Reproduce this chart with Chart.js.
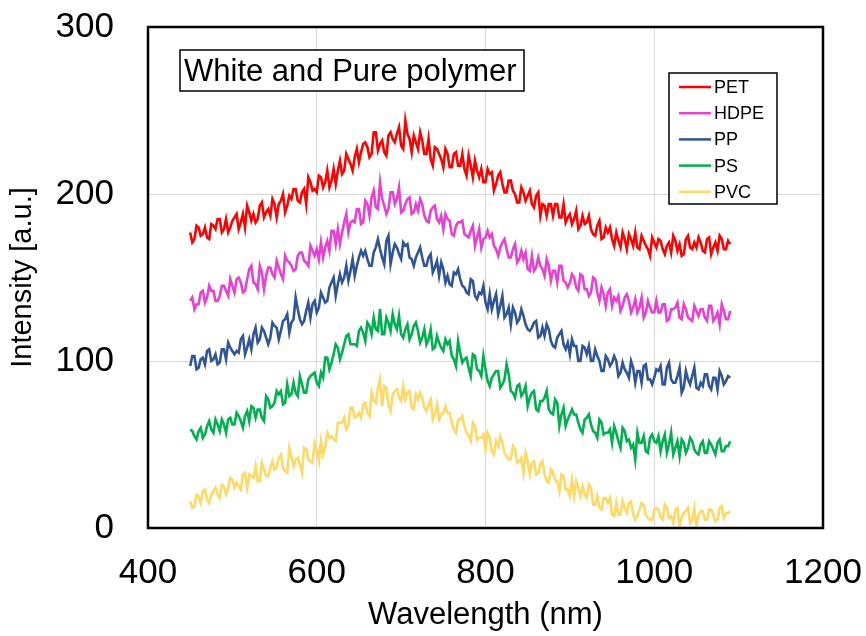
<!DOCTYPE html>
<html>
<head>
<meta charset="utf-8">
<script src="https://cdn.jsdelivr.net/npm/chart.js@4.4.1/dist/chart.umd.min.js"></script>
<style>
  body { margin: 0; background: #fff; }
  #wrap { width: 866px; height: 636px; }
</style>
</head>
<body>
<div id="wrap"><canvas id="spectraChart" width="866" height="636"></canvas></div>
<script>
// Espectros de polímeros blancos y puros (cada 2.5 nm)
const wavelengths = [
  450, 452.5, 455, 457.5, 460, 462.5, 465, 467.5, 470, 472.5, 475, 477.5, 480, 482.5, 485, 487.5, 490, 492.5, 495, 497.5, 500, 502.5,
  505, 507.5, 510, 512.5, 515, 517.5, 520, 522.5, 525, 527.5, 530, 532.5, 535, 537.5, 540, 542.5, 545, 547.5, 550, 552.5,
  555, 557.5, 560, 562.5, 565, 567.5, 570, 572.5, 575, 577.5, 580, 582.5, 585, 587.5, 590, 592.5, 595, 597.5, 600, 602.5,
  605, 607.5, 610, 612.5, 615, 617.5, 620, 622.5, 625, 627.5, 630, 632.5, 635, 637.5, 640, 642.5, 645, 647.5, 650, 652.5,
  655, 657.5, 660, 662.5, 665, 667.5, 670, 672.5, 675, 677.5, 680, 682.5, 685, 687.5, 690, 692.5, 695, 697.5, 700, 702.5,
  705, 707.5, 710, 712.5, 715, 717.5, 720, 722.5, 725, 727.5, 730, 732.5, 735, 737.5, 740, 742.5, 745, 747.5, 750, 752.5,
  755, 757.5, 760, 762.5, 765, 767.5, 770, 772.5, 775, 777.5, 780, 782.5, 785, 787.5, 790, 792.5, 795, 797.5, 800, 802.5,
  805, 807.5, 810, 812.5, 815, 817.5, 820, 822.5, 825, 827.5, 830, 832.5, 835, 837.5, 840, 842.5, 845, 847.5, 850, 852.5,
  855, 857.5, 860, 862.5, 865, 867.5, 870, 872.5, 875, 877.5, 880, 882.5, 885, 887.5, 890, 892.5, 895, 897.5, 900, 902.5,
  905, 907.5, 910, 912.5, 915, 917.5, 920, 922.5, 925, 927.5, 930, 932.5, 935, 937.5, 940, 942.5, 945, 947.5, 950, 952.5,
  955, 957.5, 960, 962.5, 965, 967.5, 970, 972.5, 975, 977.5, 980, 982.5, 985, 987.5, 990, 992.5, 995, 997.5, 1000, 1002.5,
  1005, 1007.5, 1010, 1012.5, 1015, 1017.5, 1020, 1022.5, 1025, 1027.5, 1030, 1032.5, 1035, 1037.5, 1040, 1042.5, 1045, 1047.5, 1050, 1052.5,
  1055, 1057.5, 1060, 1062.5, 1065, 1067.5, 1070, 1072.5, 1075, 1077.5, 1080, 1082.5, 1085, 1087.5, 1090
];

const seriesNames = ['PET', 'HDPE', 'PP', 'PS', 'PVC'];
const seriesColors = ['#ff0000', '#e641d3', '#2f5597', '#00b050', '#ffd966'];

const pet = [
  177, 171, 173, 181, 180, 175, 176, 180, 174, 173, 182, 181, 179, 185, 185, 177, 179, 185, 177, 180, 184, 186,
  188, 179, 183, 188, 180, 193, 189, 184, 188, 183, 185, 193, 195, 186, 189, 191, 187, 197, 194, 186,
  194, 196, 200, 189, 193, 199, 197, 203, 203, 196, 195, 201, 203, 194, 210, 207, 202, 203, 201, 211,
  210, 204, 207, 214, 204, 208, 215, 206, 214, 220, 212, 214, 224, 221, 218, 214, 222, 227, 219, 225,
  230, 231, 228, 222, 224, 237, 237, 226, 230, 232, 225, 223, 235, 237, 233, 231, 236, 240, 229, 227,
  244, 236, 233, 225, 235, 231, 227, 237, 232, 224, 224, 233, 221, 217, 228, 227, 224, 221, 216, 227,
  224, 216, 216, 224, 225, 217, 217, 224, 215, 211, 223, 217, 210, 220, 214, 210, 215, 207, 207, 215,
  212, 213, 202, 206, 211, 213, 206, 201, 201, 208, 208, 202, 200, 195, 195, 204, 201, 196, 199, 202,
  194, 192, 199, 201, 187, 194, 193, 187, 194, 194, 187, 194, 194, 186, 186, 194, 183, 186, 188, 182,
  185, 190, 179, 181, 187, 182, 183, 187, 179, 176, 175, 181, 184, 173, 174, 180, 177, 180, 173, 169,
  177, 172, 168, 177, 173, 167, 176, 173, 169, 177, 168, 167, 175, 172, 169, 167, 163, 174, 171, 168,
  173, 172, 167, 164, 169, 171, 165, 175, 172, 166, 170, 163, 164, 173, 175, 168, 167, 171, 168, 174,
  171, 166, 165, 173, 174, 164, 168, 171, 166, 175, 173, 167, 167, 172, 170
];

const hdpe = [
  136, 138, 131, 134, 134, 141, 142, 135, 138, 145, 142, 142, 136, 136, 139, 145, 145, 142, 139, 149, 145, 141,
  149, 150, 147, 141, 142, 149, 155, 157, 147, 146, 143, 157, 153, 143, 151, 156, 156, 152, 150, 160,
  156, 152, 149, 163, 160, 159, 157, 154, 155, 163, 165, 165, 160, 159, 157, 169, 166, 163, 167, 161,
  171, 162, 168, 172, 166, 178, 178, 170, 179, 170, 177, 183, 188, 177, 183, 184, 183, 191, 191, 182,
  183, 196, 194, 187, 198, 202, 192, 191, 207, 197, 193, 188, 191, 201, 201, 194, 197, 204, 189, 190,
  194, 197, 198, 188, 189, 194, 190, 197, 194, 187, 184, 183, 190, 192, 193, 185, 183, 187, 179, 188,
  185, 184, 176, 175, 181, 183, 183, 184, 176, 175, 174, 178, 181, 169, 174, 179, 168, 173, 174, 178,
  174, 176, 169, 167, 163, 168, 171, 173, 167, 162, 162, 167, 170, 159, 161, 166, 161, 165, 155, 154,
  163, 154, 156, 162, 157, 155, 151, 161, 157, 148, 154, 154, 147, 157, 157, 148, 147, 144, 147, 152,
  150, 144, 142, 152, 151, 143, 143, 139, 141, 150, 149, 141, 136, 144, 140, 133, 141, 143, 133, 138,
  136, 139, 130, 133, 138, 140, 136, 129, 132, 137, 129, 132, 138, 126, 129, 136, 132, 129, 129, 136,
  129, 129, 134, 134, 124, 125, 131, 131, 132, 135, 126, 125, 134, 131, 126, 125, 124, 133, 130, 127,
  131, 131, 126, 124, 133, 133, 124, 126, 129, 122, 134, 130, 125, 125, 130
];

const pp = [
  97, 103, 103, 95, 96, 101, 102, 98, 106, 107, 100, 101, 104, 98, 99, 107, 107, 101, 111, 108, 106, 104,
  106, 105, 113, 115, 104, 108, 113, 107, 116, 120, 111, 113, 120, 118, 114, 110, 114, 123, 121, 120,
  113, 118, 124, 125, 128, 117, 123, 125, 138, 131, 125, 122, 124, 130, 135, 126, 134, 136, 129, 132,
  141, 138, 135, 136, 144, 147, 150, 139, 146, 152, 147, 150, 157, 148, 154, 161, 151, 157, 162, 166,
  163, 166, 161, 157, 157, 165, 168, 173, 167, 162, 158, 172, 175, 158, 165, 170, 168, 164, 161, 171,
  169, 170, 162, 161, 157, 162, 165, 168, 162, 157, 157, 162, 164, 153, 156, 160, 151, 159, 155, 147,
  151, 146, 145, 153, 152, 155, 149, 145, 144, 141, 140, 149, 148, 139, 137, 141, 140, 145, 135, 131,
  140, 131, 136, 140, 128, 133, 139, 126, 128, 132, 122, 132, 129, 123, 125, 131, 127, 122, 119, 118,
  120, 123, 124, 114, 115, 120, 115, 122, 119, 112, 109, 108, 114, 116, 118, 110, 107, 111, 104, 113,
  109, 109, 100, 100, 109, 108, 104, 109, 100, 100, 107, 103, 100, 94, 94, 103, 101, 97, 99, 103,
  100, 91, 93, 99, 95, 93, 90, 100, 96, 87, 94, 94, 87, 97, 98, 89, 89, 86, 90, 95,
  94, 97, 86, 86, 96, 99, 89, 87, 87, 91, 96, 81, 84, 94, 89, 86, 91, 96, 84, 83,
  87, 85, 92, 92, 85, 83, 90, 90, 83, 94, 91, 86, 88, 91, 90
];

const ps = [
  59, 58, 55, 53, 58, 60, 54, 56, 61, 64, 59, 57, 65, 62, 58, 65, 62, 57, 65, 66, 62, 62,
  69, 67, 64, 60, 67, 70, 64, 73, 72, 66, 71, 71, 66, 64, 79, 77, 72, 73, 75, 82,
  80, 82, 74, 75, 86, 79, 80, 87, 81, 79, 91, 86, 81, 81, 89, 91, 92, 93, 87, 85,
  93, 90, 102, 102, 95, 99, 104, 110, 108, 101, 105, 110, 115, 116, 110, 110, 110, 109, 118, 120,
  117, 112, 123, 121, 116, 126, 119, 118, 131, 116, 116, 126, 123, 118, 128, 122, 119, 127, 116, 114,
  119, 122, 113, 116, 121, 123, 118, 111, 114, 119, 110, 113, 119, 107, 108, 115, 111, 108, 106, 113,
  110, 112, 103, 101, 97, 112, 105, 99, 101, 102, 96, 91, 104, 103, 95, 94, 91, 103, 95, 88,
  85, 90, 92, 94, 94, 84, 86, 89, 98, 92, 82, 81, 78, 85, 86, 79, 81, 85, 73, 78,
  81, 82, 71, 70, 76, 76, 78, 82, 71, 69, 68, 77, 75, 61, 68, 72, 61, 65, 68, 71,
  68, 68, 63, 59, 57, 65, 66, 68, 62, 58, 57, 54, 65, 63, 56, 57, 57, 59, 51, 61,
  57, 52, 48, 60, 58, 52, 53, 48, 50, 41, 57, 51, 51, 55, 46, 45, 54, 56, 52, 51,
  55, 46, 52, 56, 45, 50, 57, 44, 48, 52, 43, 53, 51, 45, 48, 54, 52, 47, 45, 44,
  50, 52, 45, 45, 52, 50, 47, 44, 51, 53, 46, 46, 49, 49, 52
];

const pvc = [
  16, 12, 13, 20, 19, 15, 22, 23, 17, 15, 20, 22, 24, 20, 18, 26, 25, 20, 24, 30, 29, 24,
  27, 25, 23, 32, 33, 24, 32, 31, 30, 37, 28, 28, 39, 35, 31, 31, 36, 40, 35, 36,
  42, 44, 36, 34, 33, 48, 43, 37, 41, 42, 38, 33, 48, 47, 41, 40, 39, 51, 47, 40,
  52, 44, 49, 57, 54, 55, 53, 52, 63, 63, 63, 66, 59, 61, 72, 72, 66, 67, 69, 66,
  74, 75, 69, 67, 81, 76, 75, 84, 89, 73, 85, 84, 74, 70, 80, 82, 83, 78, 76, 85,
  77, 81, 82, 72, 71, 80, 77, 81, 78, 72, 70, 74, 77, 65, 68, 74, 65, 68, 69, 73,
  69, 69, 63, 59, 57, 65, 65, 67, 61, 57, 55, 52, 63, 61, 53, 54, 54, 56, 47, 57,
  54, 46, 44, 52, 49, 55, 51, 45, 43, 41, 41, 49, 47, 39, 40, 42, 33, 45, 40, 32,
  39, 40, 32, 33, 38, 40, 32, 28, 27, 35, 33, 29, 28, 22, 32, 31, 23, 23, 19, 29,
  19, 28, 24, 19, 25, 20, 18, 26, 24, 14, 14, 19, 12, 11, 18, 18, 15, 18, 8, 7,
  15, 8, 8, 16, 12, 9, 15, 16, 8, 5, 7, 11, 15, 14, 8, 6, 5, 5, 11, 12,
  11, 6, 5, 14, 12, 6, 7, 3, 11, 12, 0, 7, 9, 10, 12, 3, 5, 12, 1, 8,
  10, 10, 5, 5, 11, 11, 8, 4, 5, 12, 13, 6, 9, 9, 10
];

const xTicks = [400, 600, 800, 1000, 1200];
const yTicks = [0, 100, 200, 300];
const chartTitle = 'White and Pure polymer';

const allSeries = [pet, hdpe, pp, ps, pvc];
const FONT = "'Liberation Sans', Arial, sans-serif";

// marco del área, recuadro del título y leyenda
const overlayPlugin = {
    id: 'overlay',
    afterDraw(chart) {
        const ctx = chart.ctx;
        const a = chart.chartArea;
        ctx.save();

        ctx.lineWidth = 2.5;
        ctx.strokeStyle = '#000';
        ctx.strokeRect(a.left, a.top, a.right - a.left, a.bottom - a.top);

        // título
        ctx.fillStyle = '#fff';
        ctx.fillRect(180, 50, 344, 41);
        ctx.lineWidth = 1.5;
        ctx.strokeRect(180, 50, 344, 41);
        ctx.fillStyle = '#000';
        ctx.font = '31px ' + FONT;
        ctx.textBaseline = 'middle';
        ctx.textAlign = 'left';
        ctx.fillText(chartTitle, 184, 72);

        // leyenda
        ctx.fillStyle = '#fff';
        ctx.fillRect(669, 73, 108, 131);
        ctx.lineWidth = 1.5;
        ctx.strokeRect(669, 73, 108, 131);
        ctx.font = '18px ' + FONT;
        chart.data.datasets.forEach((ds, i) => {
            const y = 87 + i * 26.2;
            ctx.strokeStyle = ds.borderColor;
            ctx.lineWidth = 2.5;
            ctx.beginPath();
            ctx.moveTo(679, y);
            ctx.lineTo(711, y);
            ctx.stroke();
            ctx.fillStyle = '#000';
            ctx.fillText(ds.label, 714, y + 1);
        });
        ctx.restore();
    }
};

document.addEventListener('DOMContentLoaded', function() {
    const ctx = document.getElementById('spectraChart');

    const datasets = seriesNames.map((name, k) => ({
        label: name,
        data: wavelengths.map((w, i) => ({ x: w, y: allSeries[k][i] })),
        borderColor: seriesColors[k],
        backgroundColor: seriesColors[k],
        borderWidth: 2.6,
        pointRadius: 0,
        tension: 0,
        fill: false
    }));

    new Chart(ctx, {
        type: 'line',
        data: { datasets: datasets },
        options: {
            responsive: false,
            animation: false,
            layout: { padding: { top: 27, right: 43, left: 0, bottom: 0 } },
            plugins: {
                legend: { display: false },
                tooltip: { enabled: false }
            },
            scales: {
                x: {
                    type: 'linear',
                    min: xTicks[0],
                    max: xTicks[xTicks.length - 1],
                    afterBuildTicks: (s) => { s.ticks = xTicks.map(v => ({ value: v })); },
                    afterFit: (s) => { s.height = 108; },
                    ticks: {
                        color: '#000',
                        font: { family: FONT, size: 35 },
                        padding: 0,
                        maxRotation: 0,
                        callback: (v) => String(v)
                    },
                    grid: { color: '#d9d9d9', drawTicks: true, tickLength: 24, tickColor: 'rgba(0,0,0,0)' },
                    border: { display: false },
                    title: {
                        display: true,
                        text: 'Wavelength (nm)',
                        color: '#000',
                        font: { family: FONT, size: 31 },
                        padding: { top: 0, bottom: 2 }
                    }
                },
                y: {
                    min: yTicks[0],
                    max: yTicks[yTicks.length - 1],
                    afterBuildTicks: (s) => { s.ticks = yTicks.map(v => ({ value: v })); },
                    afterFit: (s) => { s.width = 148; },
                    ticks: {
                        color: '#000',
                        font: { family: FONT, size: 35 },
                        padding: 0,
                        callback: (v) => String(v)
                    },
                    grid: { color: '#d9d9d9', drawTicks: true, tickLength: 34, tickColor: 'rgba(0,0,0,0)' },
                    border: { display: false },
                    title: {
                        display: true,
                        text: 'Intensity [a.u.]',
                        color: '#000',
                        font: { family: FONT, size: 29 },
                        padding: { top: 6, bottom: 0 }
                    }
                }
            }
        },
        plugins: [overlayPlugin]
    });
});
</script>
</body>
</html>
